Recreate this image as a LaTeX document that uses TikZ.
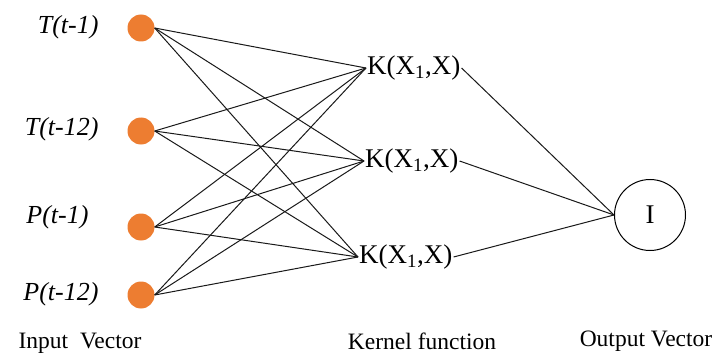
\documentclass[tikz,border=0pt]{standalone}
\usepackage{fontspec}
\setmainfont{Liberation Serif}
\usepackage{tikz}
\usetikzlibrary{positioning}
\definecolor{dot_orange}{RGB}{237, 125, 49}

\begin{document}
\begin{tikzpicture}[x=1pt, y=-1pt, font=\fontsize{23.5}{26}\selectfont,
      inp/.style={circle, fill=dot_orange, minimum size=27pt, inner sep=0pt},
      kern/.style={inner sep=1pt, anchor=west, font=\fontsize{27}{29}\selectfont},
      outc/.style={circle, draw, line width=1pt, minimum size=71pt, inner sep=0pt,
        font=\fontsize{27}{29}\selectfont},
      lbl/.style={font=\fontsize{26}{28}\selectfont\itshape, anchor=east},
      wire/.style={line width=1pt, black!90}]
    \useasboundingbox (0,0) rectangle (721,361);
    % input layer
    \node[inp] (i1) at (141,28)  {};
    \node[inp] (i2) at (141,131) {};
    \node[inp] (i3) at (141,227) {};
    \node[inp] (i4) at (141,295) {};
    \node[lbl] (l1) at (102,27)  {T(t-1)};
    \node[lbl] (l2) at (102,129) {T(t-12)};
    \node[lbl] (l3) at (92,217)  {P(t-1)};
    \node[lbl] (l4) at (102,294) {P(t-12)};
    % kernel layer
    \node[kern] (k1) at (366,68)  {K(X\textsubscript{1},X)};
    \node[kern] (k2) at (364,161) {K(X\textsubscript{1},X)};
    \node[kern] (k3) at (358,257) {K(X\textsubscript{1},X)};
    % output
    \node[outc] (o) at (650,215) {I};
    \foreach \a in {i1,i2,i3,i4}
      \foreach \b in {k1,k2,k3}
        \draw[wire] (\a.east) -- (\b.west);
    \foreach \b in {k1,k2,k3} \draw[wire] (\b.east) -- (o.west);
    % captions
    \node (c1) at (80,343)  {Input~~Vector};
    \node (c2) at (422,341) {Kernel function};
    \node (c3) at (646,341) {Output Vector};
  \end{tikzpicture}
\end{document}
